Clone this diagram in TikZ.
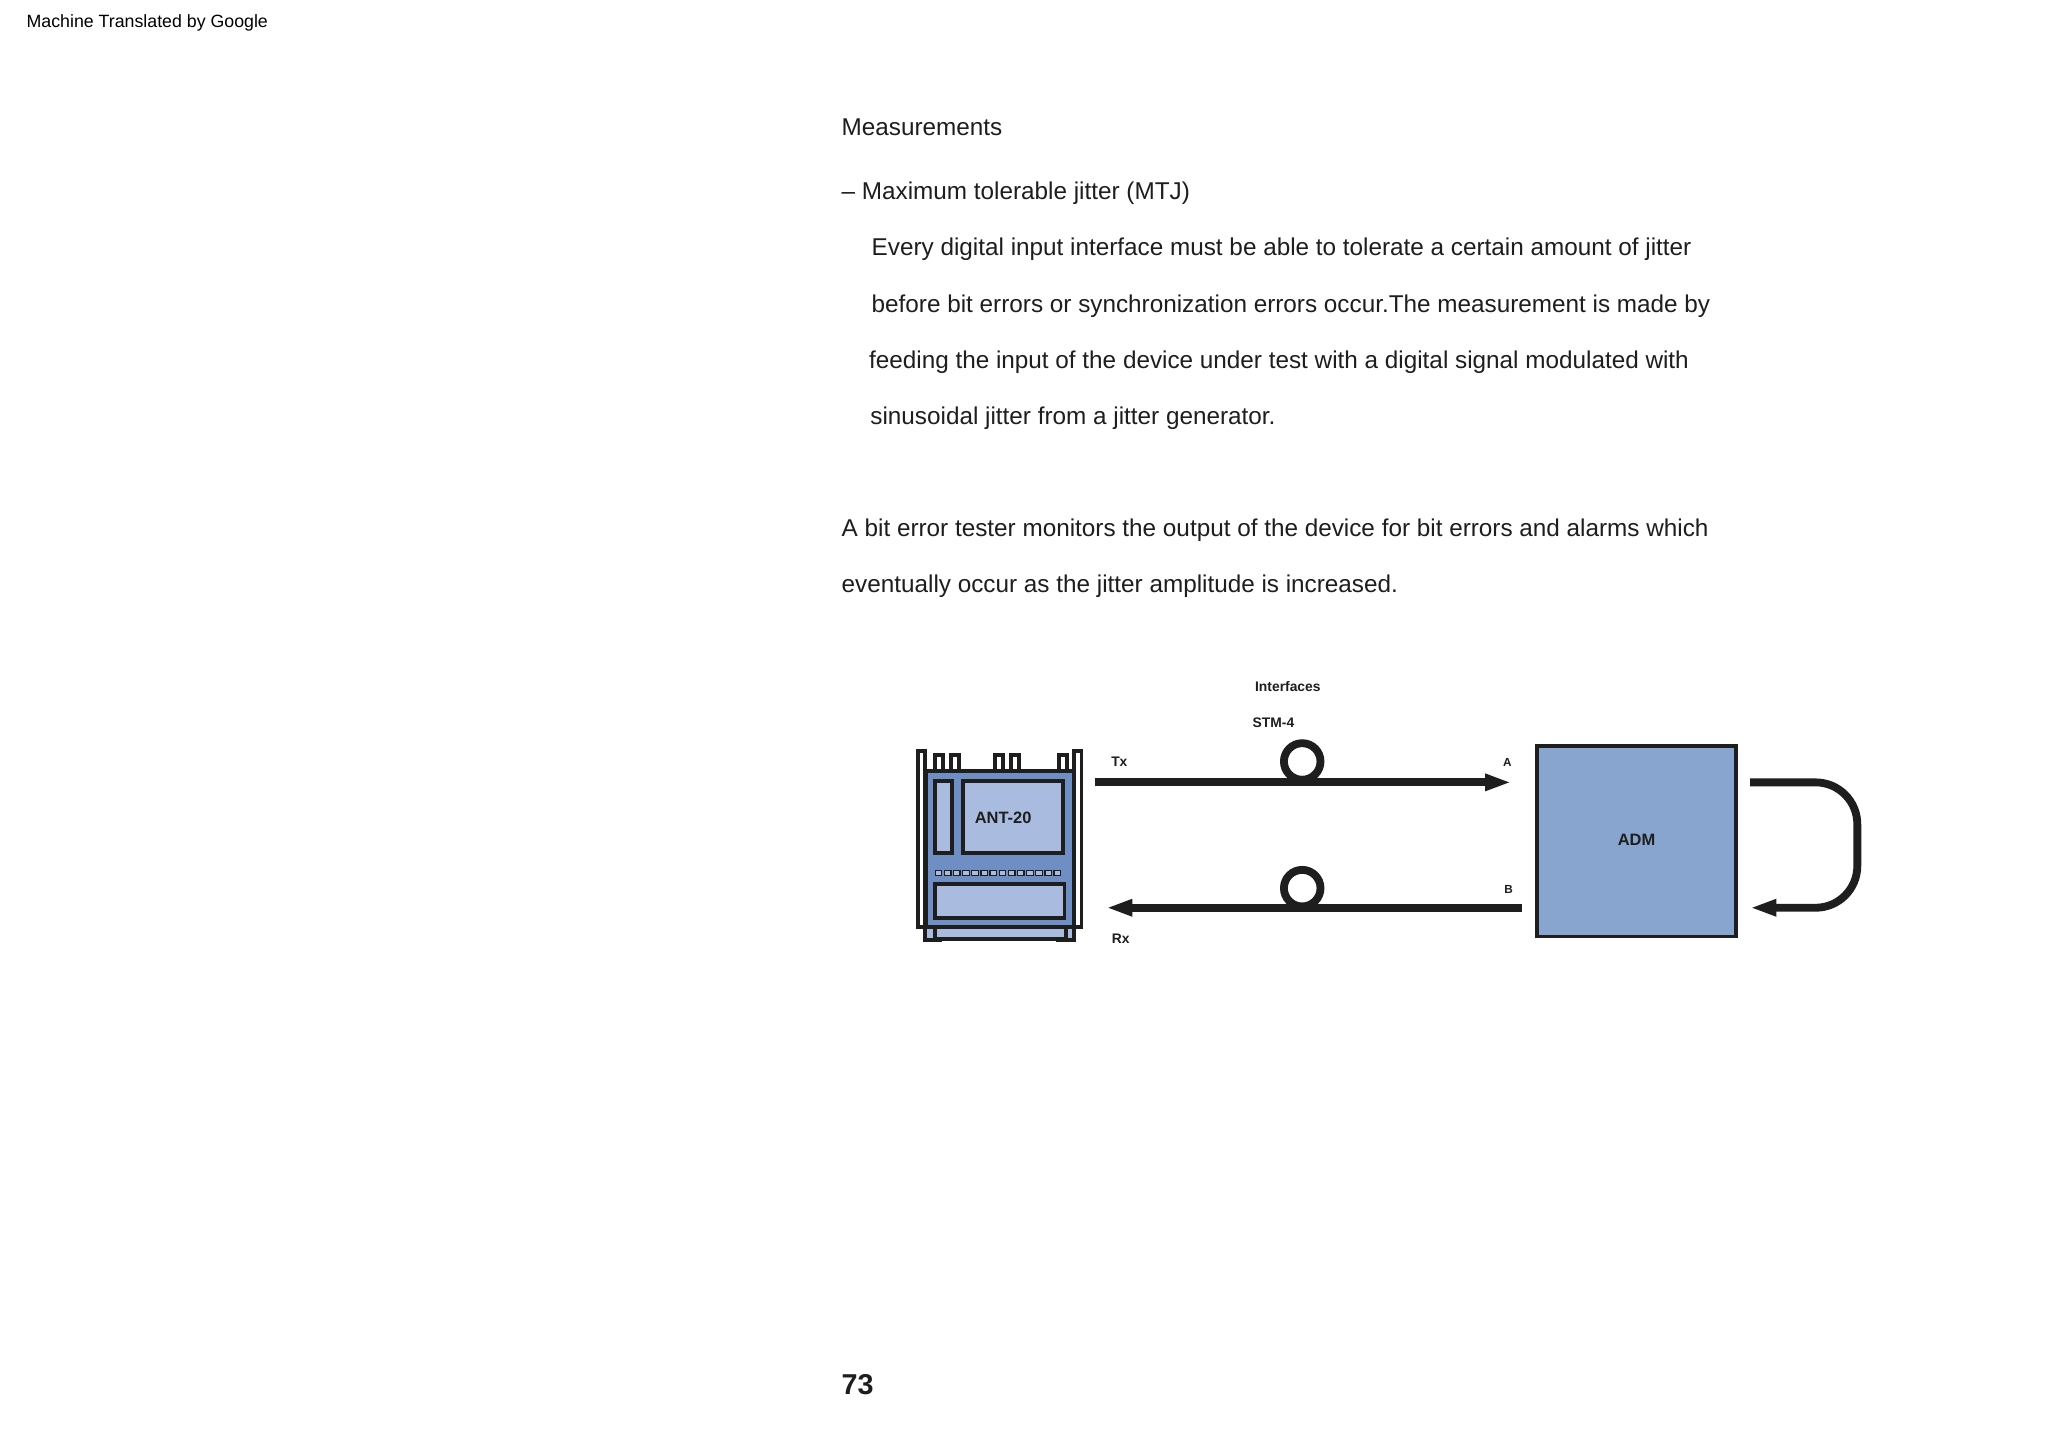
\documentclass[tikz,border=0pt]{standalone}
\usepackage{fontspec}
\setmainfont{Liberation Sans}
\usetikzlibrary{arrows.meta}
\definecolor{bodyblue}{HTML}{6F8FC4}
\definecolor{lightblue}{HTML}{A9BCE0}
\definecolor{admblue}{HTML}{87A5CF}
\definecolor{ink}{HTML}{1E1E1E}
\begin{document}
\begin{tikzpicture}[x=0.5pt,y=-0.5pt,
  body/.style={anchor=base west,inner sep=0pt,font=\fontsize{9.3}{11}\selectfont,text=ink},
  lbl/.style={inner sep=0pt,font=\fontsize{5.3}{6}\selectfont\bfseries,text=ink},
  outl/.style={draw=ink,line width=1.5pt},
  fiber/.style={draw=ink,line width=3pt},
  tip/.style={-{Triangle[length=10pt,width=6pt]}}]
\useasboundingbox (0,0) rectangle (1568,1112);
\fill[white] (0,0) rectangle (1568,1112);
\node[anchor=base west,inner sep=0pt,font=\fontsize{6.8}{8}\selectfont] (hdr) at (20,21) {Machine Translated by Google};
\node[body] (t1) at (644,104) {Measurements};
\node[body] (t2) at (644,153) {– Maximum tolerable jitter (MTJ)};
\node[body] (t3) at (667,196) {Every digital input interface must be able to tolerate a certain amount of jitter};
\node[body] (t4) at (667,239) {before bit errors or synchronization errors occur.The measurement is made by};
\node[body] (t5) at (665,282) {feeding the input of the device under test with a digital signal modulated with};
\node[body] (t6) at (666,325) {sinusoidal jitter from a jitter generator.};
\node[body] (t7) at (644,411) {A bit error tester monitors the output of the device for bit errors and alarms which};
\node[body] (t8) at (644,454) {eventually occur as the jitter amplitude is increased.};
\node[anchor=base west,inner sep=0pt,font=\fontsize{11}{13}\bfseries\selectfont,text=ink] (pg) at (644,1068) {73};
% ANT-20 device
\foreach \x in {716,728,762,774,811}{\draw[outl,fill=white] (\x,590) -- (\x,578) -- (\x+6,578) -- (\x+6,590);}
\draw[outl,fill=lightblue] (708,705) rectangle (720,720);
\draw[outl,fill=lightblue] (810,705) rectangle (822,720);
\draw[outl,fill=lightblue] (716,708) rectangle (816,719);
\draw[outl,fill=bodyblue] (709,590) rectangle (823,710);
\draw[outl,fill=white] (703,575) rectangle (708,710);
\draw[outl,fill=white] (822,575) rectangle (828,710);
\draw[outl,fill=lightblue] (716,598) rectangle (729,653);
\draw[outl,fill=lightblue] (737,598) rectangle (814,653);
\node[lbl,font=\fontsize{6.3}{7}\selectfont\bfseries] (ant) at (768,626) {ANT-20};
\foreach \i in {0,...,13}{\draw[draw=ink,line width=0.5pt,fill=lightblue] (716+\i*7,666.5) rectangle (721+\i*7,670.5);}
\draw[outl,fill=lightblue] (716,677) rectangle (815,703);
% ADM
\node[outl,fill=admblue,minimum width=76pt,minimum height=73pt,inner sep=0pt] (adm) at (1253,644) {};
\node[lbl,font=\fontsize{6.3}{7}\selectfont\bfseries] (admt) at (1253,643) {ADM};
% fibers
\coordinate (txs) at (838,599); \coordinate (txe) at (1157,599);
\coordinate (rxs) at (1165,695); \coordinate (rxe) at (847,695);
\draw[fiber,tip] (txs) -- (txe);
\draw[fiber,tip] (rxs) -- (rxe);
\draw[draw=ink,line width=3pt] (997,583) circle (7pt);
\draw[draw=ink,line width=3pt] (997,680) circle (7pt);
\fill[white] (997,583) circle (5.2pt);
\fill[white] (997,680) circle (5.2pt);
\draw[fiber] (975,599) -- (1020,599);
\draw[fiber] (975,695) -- (1020,695);
\coordinate (ls) at (1340,599); \coordinate (le) at (1340,695);
\draw[fiber,tip,rounded corners=16pt] (ls) -- (1422,599) -- (1422,695) -- (le);
% labels
\node[lbl] (ifc) at (986,526) {Interfaces};
\node[lbl] (stm) at (975,553) {STM-4};
\node[lbl] (tx) at (857,583) {Tx};
\node[lbl] (rx) at (858,719) {Rx};
\node[lbl,font=\fontsize{4.5}{5}\selectfont\bfseries] (la) at (1154,584) {A};
\node[lbl,font=\fontsize{4.5}{5}\selectfont\bfseries] (lb) at (1155,681) {B};
\end{tikzpicture}
\end{document}
